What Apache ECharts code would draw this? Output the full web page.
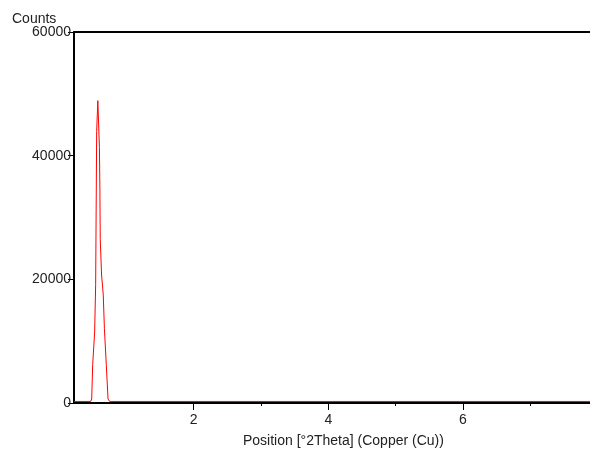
<!DOCTYPE html>
<html>
<head>
<meta charset="utf-8">
<script src="https://cdn.jsdelivr.net/npm/echarts@6/dist/echarts.min.js"></script>
<style>
  html, body { margin: 0; padding: 0; background: #fff; }
  #chart { width: 590px; height: 452px; }
</style>
</head>
<body>
<div id="chart"></div>
<script>
// scan data
const theta = [0.22, 0.468, 0.483, 0.498, 0.527, 0.542, 0.557, 0.574, 0.590, 0.598, 0.605, 0.610, 0.630, 0.655, 0.672, 0.700, 0.726, 0.750, 7.89]
const counts = [250, 250, 650, 6200, 11500, 19200, 43900, 48900, 48900, 41300, 34600, 26500, 20700, 17500, 12000, 6200, 650, 250, 250]
const xLabels = [2, 4, 6]
const xMinorTicks = [3, 5, 7]
const yTicks = [0, 20000, 40000, 60000]

const FONT = 'Liberation Sans, Arial, sans-serif'
const TXT = '#222'

const chart = echarts.init(document.getElementById('chart'))

const xRange = { min: 0.22, max: 7.89 }

chart.setOption({
  animation: false,
  grid: { left: 74, right: 0, top: 32, bottom: 49 },
  graphic: [
    { type: 'text', left: 12, top: 12, style: { text: 'Counts', font: '14px ' + FONT, fill: TXT } },
    { type: 'text', left: 243, top: 434, style: { text: 'Position [°2Theta] (Copper (Cu))', font: '14px ' + FONT, fill: TXT } }
  ],
  xAxis: [
    {
      type: 'value', ...xRange, position: 'bottom',
      axisLine: { show: true, onZero: false, lineStyle: { color: '#000', width: 2 } },
      axisTick: { show: true, length: 7, customValues: xLabels, lineStyle: { color: '#000' } },
      axisLabel: { customValues: xLabels, margin: 10, color: TXT, fontSize: 14, fontFamily: FONT },
      splitLine: { show: false }
    },
    {
      type: 'value', ...xRange, position: 'bottom',
      axisLine: { show: false },
      axisTick: { show: true, length: 3, customValues: xMinorTicks, lineStyle: { color: '#000' } },
      axisLabel: { show: false },
      splitLine: { show: false }
    },
    {
      type: 'value', ...xRange, position: 'top',
      axisLine: { show: true, onZero: false, lineStyle: { color: '#000', width: 2 } },
      axisTick: { show: false },
      axisLabel: { show: false },
      splitLine: { show: false }
    }
  ],
  yAxis: {
    type: 'value', min: yTicks[0], max: yTicks[yTicks.length - 1], interval: 20000,
    axisLine: { show: true, lineStyle: { color: '#000', width: 2 } },
    axisTick: { show: true, length: 6, lineStyle: { color: '#000' } },
    axisLabel: { margin: 3, color: TXT, fontSize: 14, fontFamily: FONT, formatter: v => String(v) },
    splitLine: { show: false }
  },
  series: [
    {
      type: 'line',
      xAxisIndex: 0,
      data: theta.map((t, i) => [t, counts[i]]),
      showSymbol: false,
      lineStyle: { color: '#ff0000', width: 1 },
      itemStyle: { color: '#ff0000' }
    }
  ]
})
</script>
</body>
</html>
